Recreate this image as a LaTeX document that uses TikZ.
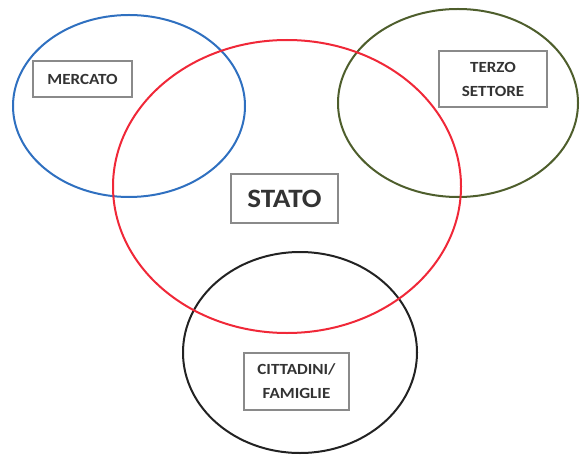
\documentclass[tikz,border=0pt]{standalone}
\usepackage{fontspec}
\newfontfamily\lblfont[FakeStretch=1.1]{Carlito}
\definecolor{mblue}{HTML}{2F70C0}
\definecolor{sred}{HTML}{F02838}
\definecolor{tgreen}{HTML}{4E5E2C}
\definecolor{fblack}{HTML}{222222}
\definecolor{boxgray}{HTML}{8A8A8A}
\definecolor{txt}{HTML}{333333}
\begin{document}
\begin{tikzpicture}[x=1pt,y=-1pt,
  ring/.style={line width=2pt},
  label box/.style={draw=boxgray, line width=1.3pt, fill=white, inner sep=0pt,
    align=center, text=txt, font=\lblfont\bfseries\fontsize{15.5}{24}\selectfont}]
\useasboundingbox (0,0) rectangle (580,457);
% the four spheres
\draw[ring, mblue]  (129,106)   ellipse [x radius=116, y radius=91];
\draw[ring, tgreen] (458,103)   ellipse [x radius=120, y radius=94];
\draw[ring, fblack] (300,352.5) ellipse [x radius=117, y radius=100.5];
\draw[ring, sred]   (287,186.5) ellipse [x radius=174, y radius=146.5];
% labels
\node[label box, minimum width=99pt, minimum height=36pt] (mercato) at (82.5,79) {MERCATO};
\node[label box, minimum width=108pt, minimum height=56pt] (terzo) at (493,79) {TERZO\\SETTORE};
\node[label box, minimum width=107pt, minimum height=49pt,
      font=\lblfont\bfseries\fontsize{26.5}{30}\selectfont] (stato) at (284.5,198.5) {STATO};
\node[label box, minimum width=105pt, minimum height=57pt] (cittadini) at (296.5,381.5) {CITTADINI/\\FAMIGLIE};
\end{tikzpicture}
\end{document}
